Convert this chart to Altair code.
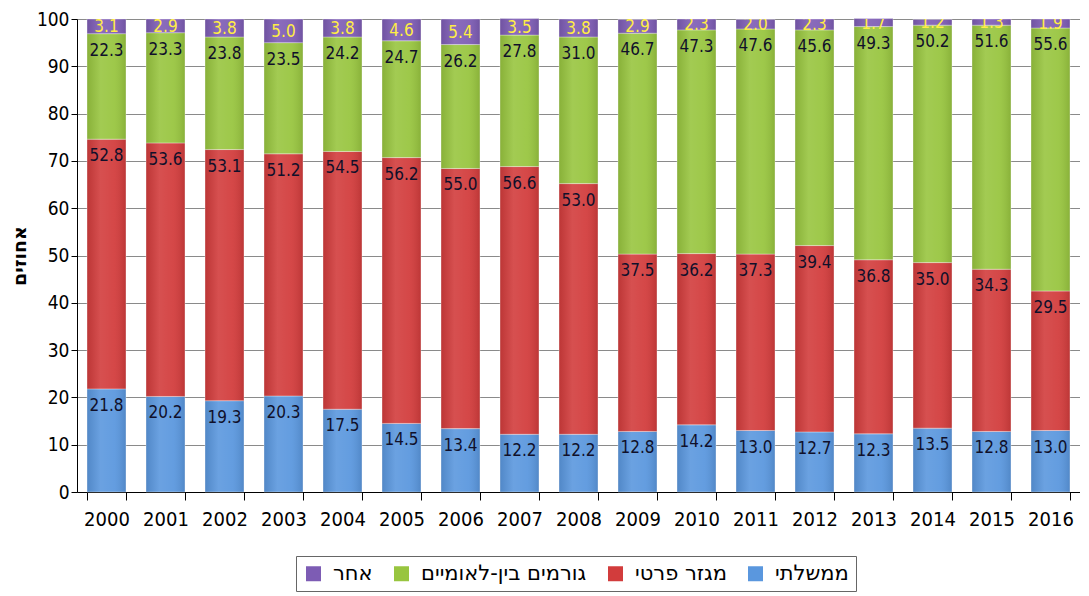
import altair as alt
import pandas as pd

years = [str(y) for y in range(2000, 2017)]
government = [21.8, 20.2, 19.3, 20.3, 17.5, 14.5, 13.4, 12.2, 12.2, 12.8, 14.2, 13.0, 12.7, 12.3, 13.5, 12.8, 13.0]
private = [52.8, 53.6, 53.1, 51.2, 54.5, 56.2, 55.0, 56.6, 53.0, 37.5, 36.2, 37.3, 39.4, 36.8, 35.0, 34.3, 29.5]
international = [22.3, 23.3, 23.8, 23.5, 24.2, 24.7, 26.2, 27.8, 31.0, 46.7, 47.3, 47.6, 45.6, 49.3, 50.2, 51.6, 55.6]
other = [3.1, 2.9, 3.8, 5.0, 3.8, 4.6, 5.4, 3.5, 3.8, 2.9, 2.3, 2.0, 2.3, 1.7, 1.2, 1.3, 1.9]

series_names = ["ממשלתי", "מגזר פרטי", "גורמים בין-לאומיים", "אחר"]
series_colors = ["#5a97de", "#d23c3c", "#98c53f", "#7d5cb4"]
y_ticks = [0, 10, 20, 30, 40, 50, 60, 70, 80, 90, 100]

rows = []
for k, (name, vals) in enumerate(zip(series_names, [government, private, international, other])):
    for yr, v in zip(years, vals):
        rows.append({"year": yr, "series": name, "value": v, "order": k})
df = pd.DataFrame(rows)

FONT = "DejaVu Sans Condensed, DejaVu Sans"

base = alt.Chart(df).transform_stack(
    stack="value", as_=["y0", "y1"], groupby=["year"],
    sort=[alt.SortField("order", order="ascending")]
).transform_calculate(ymid="(datum.y0 + datum.y1) / 2")

x_enc = alt.X("year:N", sort=years,
              scale=alt.Scale(paddingInner=0.34, paddingOuter=0.17),
              axis=alt.Axis(title=None, labelAngle=0, tickBand="extent", tickSize=8,
                            labelFontSize=20, labelFont=FONT, labelColor="#000",
                            labelPadding=9, domainColor="#000", tickColor="#000",
                            grid=False))

bars = base.mark_bar(stroke="#ffffff", strokeOpacity=0.35, strokeWidth=1).encode(
    x=x_enc,
    y=alt.Y("y0:Q", scale=alt.Scale(domain=[0, 100], nice=False),
            axis=alt.Axis(values=y_ticks, title="אחוזים", titleFontSize=19,
                          titleFont="DejaVu Sans", titleFontWeight="bold",
                          titlePadding=7, titleColor="#000",
                          labelFontSize=19, labelFont=FONT, labelColor="#000",
                          labelPadding=2, tickSize=6, tickColor="#000",
                          domainColor="#000", gridColor="#8a8a8a")),
    y2="y1:Q",
    color=alt.Color("series:N",
                    scale=alt.Scale(domain=series_names[::-1], range=series_colors[::-1]),
                    legend=alt.Legend(orient="none", legendX=219, legendY=537,
                                      direction="horizontal", title=None,
                                      symbolType="square", symbolSize=225,
                                      symbolStrokeWidth=0,
                                      labelFontSize=21, labelFont="DejaVu Sans",
                                      labelColor="#000", labelLimit=400,
                                      labelOffset=9, columnPadding=18,
                                      strokeColor="#666666", padding=7)),
    order=alt.Order("order:Q"),
)

shine = base.mark_bar(
    color=alt.Gradient(
        gradient="linear", x1=0, x2=1, y1=0, y2=0,
        stops=[alt.GradientStop(color="rgba(0,0,0,0.10)", offset=0),
               alt.GradientStop(color="rgba(255,255,255,0.10)", offset=0.35),
               alt.GradientStop(color="rgba(255,255,255,0.06)", offset=0.7),
               alt.GradientStop(color="rgba(0,0,0,0.10)", offset=1)]),
).encode(
    x=alt.X("year:N", sort=years),
    y=alt.Y("y0:Q"),
    y2="y1:Q",
)

labels = base.transform_filter(alt.datum.series != "אחר").mark_text(
    baseline="middle", dy=17, fontSize=17, font=FONT, color="#10102a"
).encode(
    x=alt.X("year:N", sort=years),
    y=alt.Y("y1:Q"),
    text=alt.Text("value:Q", format=".1f"),
)

other_labels = base.transform_filter(alt.datum.series == "אחר").mark_text(
    baseline="middle", dy=1, fontSize=17, font=FONT, color="#ffee44", clip=True
).encode(
    x=alt.X("year:N", sort=years),
    y=alt.Y("ymid:Q"),
    text=alt.Text("value:Q", format=".1f"),
)

chart = alt.layer(bars, shine, labels, other_labels).properties(
    width=1003, height=473,
    padding={"left": 2, "top": 2, "right": 0, "bottom": 0},
).configure_view(stroke=None)

chart.save("out.html", embed_options={"renderer": "svg", "actions": False})
